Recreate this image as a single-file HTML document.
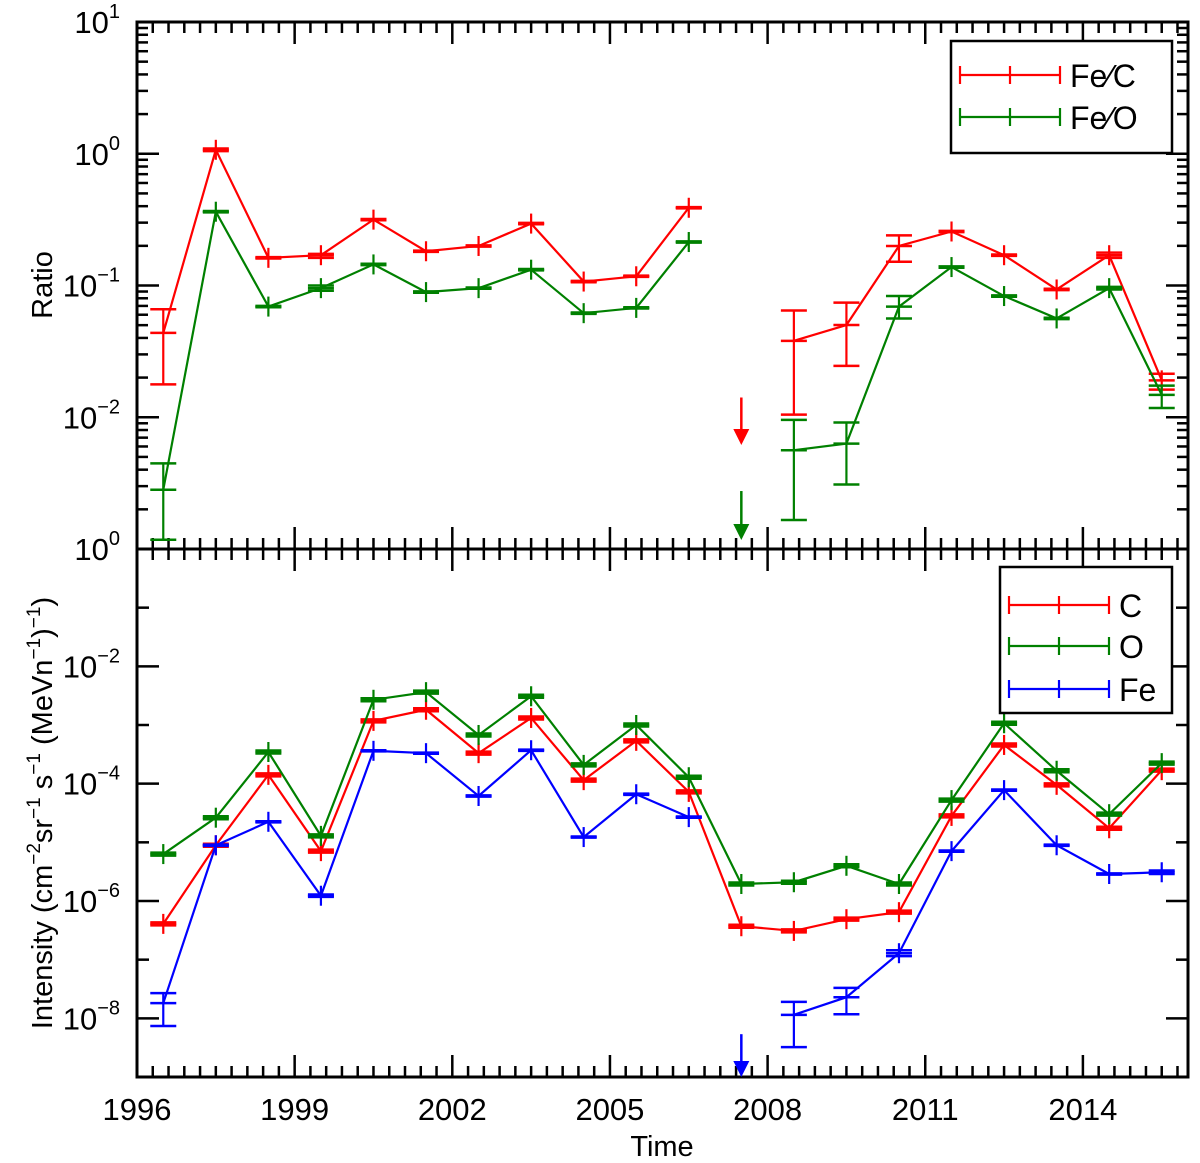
<!DOCTYPE html>
<html><head><meta charset="utf-8">
<style>
html,body{margin:0;padding:0;background:#fff;}
svg{display:block;font-family:"Liberation Sans","DejaVu Sans",sans-serif;}
</style></head>
<body>
<svg id="chart" width="1200" height="1163" viewBox="0 0 1200 1163" xmlns="http://www.w3.org/2000/svg">
<rect width="1200" height="1163" fill="#fff"/>
<g id="g"></g>
</svg>
<script>
// ---- data ----
const years = [1996.5,1997.5,1998.5,1999.5,2000.5,2001.5,2002.5,2003.5,2004.5,2005.5,2006.5,2007.5,2008.5,2009.5,2010.5,2011.5,2012.5,2013.5,2014.5,2015.5];
// log10 values; null = upper limit (arrow)
const feC  = [-1.36,0.03,-0.79,-0.77,-0.50,-0.74,-0.70,-0.53,-0.97,-0.93,-0.41,null,-1.42,-1.30,-0.70,-0.59,-0.77,-1.03,-0.77,-1.72];
const feCErrHi = [-1.18,0.04,-0.785,-0.76,-0.495,-0.735,-0.695,-0.525,-0.965,-0.925,-0.405,null,-1.19,-1.13,-0.62,-0.585,-0.765,-1.025,-0.75,-1.67];
const feCErrLo = [-1.75,0.02,-0.795,-0.79,-0.505,-0.745,-0.705,-0.535,-0.975,-0.935,-0.415,null,-1.98,-1.61,-0.82,-0.595,-0.775,-1.035,-0.79,-1.79];
const feO  = [-2.55,-0.44,-1.16,-1.02,-0.84,-1.05,-1.02,-0.88,-1.21,-1.17,-0.67,null,-2.25,-2.20,-1.16,-0.86,-1.08,-1.25,-1.02,-1.83];
const feOErrHi = [-2.35,-0.435,-1.155,-1.00,-0.835,-1.045,-1.015,-0.875,-1.205,-1.165,-0.665,null,-2.02,-2.04,-1.08,-0.855,-1.075,-1.245,-1.01,-1.76];
const feOErrLo = [-2.93,-0.445,-1.165,-1.04,-0.845,-1.055,-1.025,-0.885,-1.215,-1.175,-0.675,null,-2.78,-2.51,-1.25,-0.865,-1.085,-1.255,-1.03,-1.93];
const ratioLimitC = -1.85, ratioLimitO = -2.56;
const intC  = [-6.39,-5.05,-3.85,-5.15,-2.93,-2.74,-3.48,-2.88,-3.94,-3.27,-4.14,-6.43,-6.51,-6.31,-6.19,-4.55,-3.34,-4.02,-4.76,-3.77];
const intO  = [-5.20,-4.58,-3.46,-4.89,-2.57,-2.44,-3.17,-2.51,-3.68,-3.00,-3.89,-5.71,-5.68,-5.40,-5.71,-4.28,-2.97,-3.78,-4.52,-3.65];
const intFe = [-7.74,-5.05,-4.65,-5.91,-3.44,-3.48,-4.21,-3.43,-4.91,-4.18,-4.57,null,-7.94,-7.64,-6.89,-5.15,-4.11,-5.05,-5.54,-5.51];
const intFeErrHi = [-7.57,-5.04,-4.64,-5.89,-3.43,-3.47,-4.20,-3.42,-4.90,-4.17,-4.56,null,-7.72,-7.48,-6.84,-5.14,-4.10,-5.04,-5.53,-5.48];
const intFeErrLo = [-8.13,-5.06,-4.66,-5.93,-3.45,-3.49,-4.22,-3.44,-4.92,-4.19,-4.58,null,-8.49,-7.93,-6.94,-5.16,-4.12,-5.06,-5.55,-5.54];
const intFeLimit = -8.27;
const xTickLabels = ["1996","1999","2002","2005","2008","2011","2014"];
const ratioTicks = [1,0,-1,-2];
const intTicks = [0,-2,-4,-6,-8];

// ---- geometry ----
const L=137, R=1188, T1=22, B1=549, T2=549, B2=1077;
const X = y => L + (y-1996)*(R-L)/20;
const Y1 = v => T1 + (1-v)*(B1-T1)/4;
const Y2 = v => T2 + (0-v)*(B2-T2)/9;
const NS="http://www.w3.org/2000/svg";
const g=document.getElementById('g');
function el(tag,attrs,parent){const e=document.createElementNS(NS,tag);for(const k in attrs)e.setAttribute(k,attrs[k]);(parent||g).appendChild(e);return e;}

function drawFrame(top,bot,name){
  const f=el('rect',{x:L,y:top,width:R-L,height:bot-top,fill:'none',stroke:'#000','stroke-width':3});
  
  
  const tg=el('g',{stroke:'#000','stroke-width':2.5});
  
  
  for(let i=0;i<=66;i++){
    const yr=1996+i*0.3; const x=X(yr); if(x>R-1) break;
    const len=(i%10===0)?22:11;
    el('line',{x1:x,y1:bot,x2:x,y2:bot-len},tg);
    el('line',{x1:x,y1:top,x2:x,y2:top+len},tg);
  }
}
function drawYTicks(Y,lo,hi,name,minorSub){
  const tg=el('g',{stroke:'#000','stroke-width':2.5});
  
  
  for(let d=lo;d<=hi;d++){
    const y=Y(d);
    const major=(name==='ratio')?true:(d%2===0);
    const len=major?22:12;
    el('line',{x1:L,y1:y,x2:L+len,y2:y},tg);
    el('line',{x1:R,y1:y,x2:R-len,y2:y},tg);
    if(minorSub && d<hi){
      for(let k=2;k<=9;k++){const yy=Y(d+Math.log10(k));
        el('line',{x1:L,y1:yy,x2:L+11,y2:yy},tg);
        el('line',{x1:R,y1:yy,x2:R-11,y2:yy},tg);}
    }
  }
}

drawFrame(T1,B1,'ratio-panel');
drawFrame(T2,B2,'intensity-panel');
drawYTicks(Y1,-3,1,'ratio',true);
drawYTicks(Y2,-9,0,'intensity',false);

function yLabel(y,exp,name){
  const t=el('text',{x:120,y:y+11,'text-anchor':'end','font-size':31,fill:'#000'});
  
  
  t.textContent='10';
  const s=el('tspan',{dy:-15,'font-size':20},t); s.textContent=exp;
}
ratioTicks.forEach(v=>{yLabel(Y1(v),v<0?'\u2212'+(-v):String(v),'ratio-tick-label');});
intTicks.forEach(v=>{yLabel(Y2(v),v<0?'\u2212'+(-v):String(v),'intensity-tick-label');});
xTickLabels.forEach(s=>{
  const t=el('text',{x:X(+s),y:1120,'text-anchor':'middle','font-size':31,fill:'#000'});
  
  
  t.textContent=s;
});

function series(vals,hi,lo,Y,color,name){
  const sg=el('g',{stroke:color,'stroke-width':2.2,fill:'none'});
  
  
  let segs=[],cur=[];
  vals.forEach((v,i)=>{ if(v===null){ if(cur.length) segs.push(cur); cur=[]; } else cur.push([X(years[i]),Y(v)]); });
  if(cur.length) segs.push(cur);
  segs.forEach(sg2=>{const p=el('polyline',{points:sg2.map(p=>p.join(',')).join(' ')},sg);
    
    });
  vals.forEach((v,i)=>{
    if(v===null) return;
    const x=X(years[i]), y=Y(v);
    const h=hi?Y(hi[i]):y-1.5, l=lo?Y(lo[i]):y+1.5;
    const m=el('g',{},sg);
    
    
    el('line',{x1:x-13,y1:y,x2:x+13,y2:y,'stroke-width':2.5},m);
    el('line',{x1:x,y1:Math.min(y-10,h),x2:x,y2:Math.max(y+10,l)},m);
    el('line',{x1:x-13,y1:h,x2:x+13,y2:h,'stroke-width':2.5},m);
    el('line',{x1:x-13,y1:l,x2:x+13,y2:l,'stroke-width':2.5},m);
  });
}
function arrow(yr,v,tipY,Y,color,name){
  const x=X(yr), y=Y(v);
  const a=el('g',{});
  
  
  el('line',{x1:x,y1:y,x2:x,y2:tipY-12,stroke:color,'stroke-width':2.5},a);
  el('polygon',{points:`${x-8},${tipY-16} ${x+8},${tipY-16} ${x},${tipY}`,fill:color},a);
}
series(feC,feCErrHi,feCErrLo,Y1,'#ff0000','fe-c');
series(feO,feOErrHi,feOErrLo,Y1,'#008000','fe-o');
arrow(years[11],ratioLimitC,445,Y1,'#ff0000','fe-c-upper-limit');
arrow(years[11],ratioLimitO,540,Y1,'#008000','fe-o-upper-limit');
series(intC,null,null,Y2,'#ff0000','c-intensity');
series(intO,null,null,Y2,'#008000','o-intensity');
series(intFe,intFeErrHi,intFeErrLo,Y2,'#0000ff','fe-intensity');
arrow(years[11],intFeLimit,1077,Y2,'#0000ff','fe-intensity-upper-limit');

function legend(x,y,w,h,items,name){
  const lg=el('g',{});
  
  
  el('rect',{x:x,y:y,width:w,height:h,fill:'#fff',stroke:'#000','stroke-width':2.5},lg);
  items.forEach((it,i)=>{
    const yy=y+it[2];
    const e=el('g',{stroke:it[1],'stroke-width':2.2},lg);
    
    
    el('line',{x1:x+9,y1:yy,x2:x+109,y2:yy},e);
    [9,59,109].forEach(dx=>el('line',{x1:x+dx,y1:yy-9,x2:x+dx,y2:yy+9},e));
    const t=el('text',{x:x+119,y:yy+12,'font-size':32,fill:'#000',stroke:'none'},lg);
    
    
    t.textContent=it[0];
  });
}
legend(951,41,221,112,[['Fe\u2215C','#ff0000',34],['Fe\u2215O','#008000',76]],'ratio-legend');
legend(1000,567,172,146,[['C','#ff0000',38],['O','#008000',79],['Fe','#0000ff',122]],'intensity-legend');
</script>
<text x="52" y="285" transform="rotate(-90 52 285)" text-anchor="middle" font-size="29" font-family="Liberation Sans, sans-serif">Ratio</text>
<text x="52" y="813" transform="rotate(-90 52 813)" text-anchor="middle" font-size="29" font-family="Liberation Sans, sans-serif">Intensity (cm<tspan dy="-12" font-size="19">−2</tspan><tspan dy="12">sr</tspan><tspan dy="-12" font-size="19">−1</tspan><tspan dy="12"> s</tspan><tspan dy="-12" font-size="19">−1</tspan><tspan dy="12"> (MeVn</tspan><tspan dy="-12" font-size="19">−1</tspan><tspan dy="12">)</tspan><tspan dy="-12" font-size="19">−1</tspan><tspan dy="12">)</tspan></text>
<text x="662" y="1156" text-anchor="middle" font-size="29" font-family="Liberation Sans, sans-serif">Time</text>
<script>
const svg=document.getElementById('chart');
document.querySelectorAll('body > text').forEach(t=>{
  const n=document.createElementNS("http://www.w3.org/2000/svg",'text');
  for(const a of t.attributes) n.setAttribute(a.name,a.value);
  n.innerHTML=t.innerHTML;
  svg.appendChild(n); t.remove();
});
</script>
</body></html>
